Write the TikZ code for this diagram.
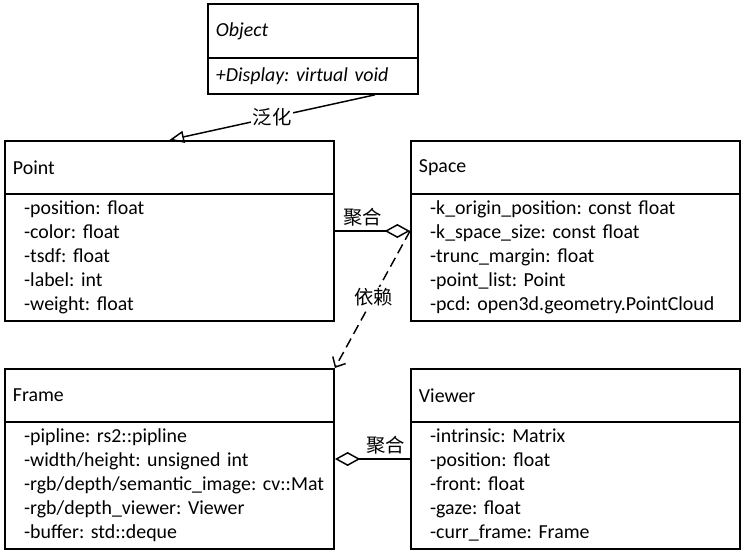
\documentclass[tikz,border=0pt]{standalone}
\usepackage{fontspec}
\setmainfont{Carlito}
\newfontfamily\cjk{Noto Sans CJK SC}
\usetikzlibrary{arrows.meta, calc}
\newcommand\bodyindent{\leftskip=7pt\relax}
\tikzset{
  classhead/.style={rectangle, draw=black, line width=1.4pt, anchor=north west, minimum width=246.75pt, minimum height=39.75pt, text width=234.75pt, inner xsep=6pt, align=left, font=\fontsize{14.9}{18}\selectfont\frenchspacing},
  classbody/.style={rectangle, draw=black, line width=1.4pt, anchor=north west, minimum width=246.75pt, minimum height=95.25pt, text width=232pt, inner xsep=7.4pt, align=left, font=\fontsize{14.9}{18}\selectfont\frenchspacing, execute at begin node=\bodyindent},
  genarrow/.style={-{Triangle[open, length=11pt, width=9pt]}, line width=1.1pt},
  aggline/.style={-{Diamond[open, length=19pt, width=10.5pt]}, line width=1.1pt},
  deparrow/.style={-{Straight Barb[length=6pt, width=11pt]}, line width=1.1pt, dash pattern=on 7.5pt off 4pt},
  rellabel/.style={font=\cjk\fontsize{14.5}{16}\selectfont, inner sep=1pt}
}
\begin{document}
\begin{tikzpicture}[x=0.75pt, y=-0.75pt]
  \useasboundingbox (0,0) rectangle (741,555);

  % Object
  \node[classhead, minimum width=157.5pt, text width=145.5pt, minimum height=40.5pt] (objhead) at (207,3) {\textit{Object}};
  \node[classhead, minimum width=157.5pt, text width=145.5pt, minimum height=27pt] (objbody) at (207,57) {\textit{+Display: virtual void}};

  % Point
  \node[classhead] (pointhead) at (4,140) {Point};
  \node[classbody] (pointbody) at (4,193) {-position: float\\-color: float\\-tsdf: float\\-label: int\\-weight: float};

  % Space
  \node[classhead] (spacehead) at (410,140) {Space};
  \node[classbody] (spacebody) at (410,193) {-k\_origin\_position: const float\\-k\_space\_size: const float\\-trunc\_margin: float\\-point\_list: Point\\-pcd: open3d.geometry.PointCloud};

  % Frame
  \node[classhead] (framehead) at (4,368) {Frame};
  \node[classbody] (framebody) at (4,421) {-pipline: rs2::pipline\\-width/height: unsigned int\\-rgb/depth/semantic\_image: cv::Mat\\-rgb/depth\_viewer: Viewer\\-buffer: std::deque};

  % Viewer
  \node[classhead] (viewerhead) at (410,368) {Viewer};
  \node[classbody] (viewerbody) at (410,421) {-intrinsic: Matrix\\-position: float\\-front: float\\-gaze: float\\-curr\_frame: Frame};

  % Relations
  \draw[genarrow] ([xshift=-33pt]objbody.south east) -- node[rellabel, fill=white, pos=0.5] {泛化} (pointhead.north);
  \draw[aggline] ([yshift=-28.5pt]pointbody.north east) -- node[rellabel, above, pos=0.37, yshift=2pt] {聚合} ([yshift=-28.5pt]spacebody.north west);
  \draw[deparrow] ([yshift=-28.5pt]spacebody.north west) -- node[rellabel, fill=white, pos=0.485] {依赖} (framehead.north east);
  \draw[aggline] ([yshift=-28.5pt]viewerbody.north west) -- node[rellabel, above, pos=0.32, yshift=2pt] {聚合} ([yshift=-28.5pt]framebody.north east);
\end{tikzpicture}
\end{document}
